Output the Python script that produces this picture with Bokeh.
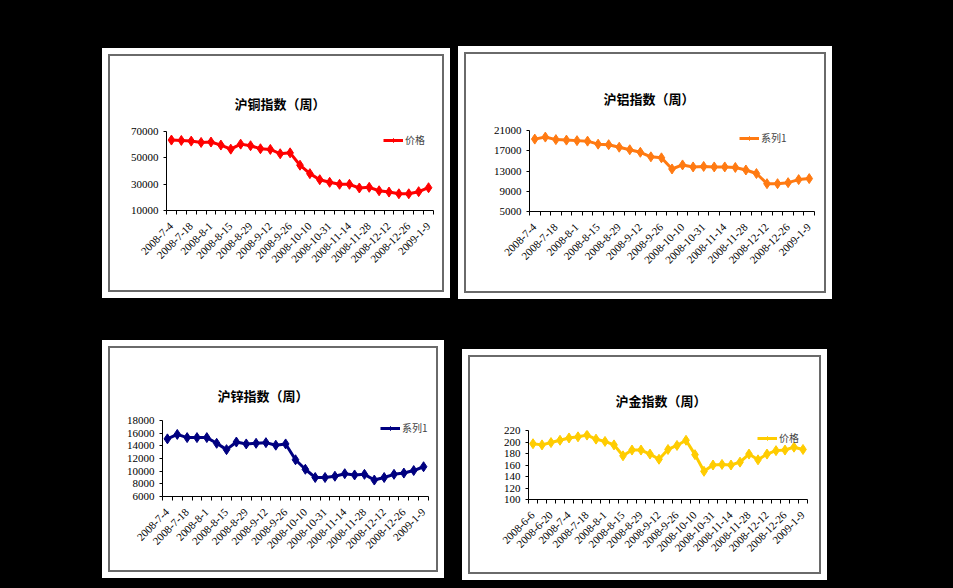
from math import pi
from bokeh.plotting import figure
from bokeh.layouts import row, column
from bokeh.models import Range1d, FixedTicker, Legend, LegendItem
from bokeh.embed import file_html
from bokeh.resources import INLINE

# ---------------- data ----------------
week_dates = ["2008-7-4", "2008-7-11", "2008-7-18", "2008-7-25", "2008-8-1", "2008-8-8",
              "2008-8-15", "2008-8-22", "2008-8-29", "2008-9-5", "2008-9-12", "2008-9-19",
              "2008-9-26", "2008-10-3", "2008-10-10", "2008-10-17", "2008-10-31", "2008-11-7",
              "2008-11-14", "2008-11-21", "2008-11-28", "2008-12-5", "2008-12-12", "2008-12-19",
              "2008-12-26", "2009-1-2", "2009-1-9"]
gold_dates = ["2008-6-6", "2008-6-13", "2008-6-20", "2008-6-27"] + week_dates

copper_values = [63500, 63200, 62700, 61700, 62000, 59700, 56600, 60400, 59200, 56900,
                 56400, 53100, 53800, 44400, 38000, 33400, 31400, 29900, 29900, 27100,
                 27600, 25000, 24000, 22700, 22700, 24300, 27300]
aluminum_values = [19300, 19700, 19200, 19100, 19000, 18900, 18300, 18200, 17700, 17200,
                   16700, 15800, 15600, 13400, 14200, 13800, 13900, 13800, 13800, 13700,
                   13200, 12500, 10500, 10500, 10700, 11300, 11500]
zinc_values = [15100, 15800, 15300, 15300, 15300, 14400, 13400, 14600, 14300, 14400,
               14500, 14100, 14300, 11800, 10300, 9000, 9000, 9200, 9600, 9400,
               9500, 8600, 9000, 9500, 9700, 10100, 10700]
gold_values = [197, 195, 199, 203, 207, 209, 212, 205, 201, 195, 176, 186, 186, 179, 170,
               187, 194, 203, 178, 149, 160, 161, 160, 165, 179, 169, 179, 185, 186, 191, 187]

titles = ["沪铜指数（周）", "沪铝指数（周）", "沪锌指数（周）", "沪金指数（周）"]
series_names = ["价格", "系列1", "系列1", "价格"]
y_ticks = [[10000, 30000, 50000, 70000],
           [5000, 9000, 13000, 17000, 21000],
           [6000, 8000, 10000, 12000, 14000, 16000, 18000],
           [100, 120, 140, 160, 180, 200, 220]]
colors = ["#FF0000", "#FF7A12", "#000080", "#FFCC00"]

LABEL_FONT = "Liberation Serif"
CJK_FONT = "Noto Sans CJK SC"


def make_panel(title, dates, values, color, name, ticks, w, h, frame, title_off,
               title_standoff, legend_loc, margin):
    left, right, top, bottom = frame
    n = len(dates)
    fw, fh = w - 16, h - 16
    p = figure(width=fw, height=fh, output_backend="svg", toolbar_location=None,
               x_range=Range1d(-0.5, n - 0.5), y_range=Range1d(ticks[0], ticks[-1]),
               min_border_left=left - 8, min_border_right=right - 8,
               min_border_top=top - 8, min_border_bottom=bottom - 8,
               background_fill_color="white", border_fill_color="white",
               outline_line_color=None)
    p.title.text = title
    p.title.align = "left"
    p.title.offset = title_off
    p.title.standoff = title_standoff
    p.title.text_font = CJK_FONT
    p.title.text_font_size = "13px"
    p.title.text_font_style = "bold"
    p.title.text_color = "black"

    x = list(range(n))
    r1 = p.line(x, values, line_color=color, line_width=3)
    r2 = p.scatter(x, values, marker="diamond", size=10, fill_color=color, line_color=color)

    legend = Legend(items=[LegendItem(label=name, renderers=[r1, r2])], location=legend_loc,
                    padding=0, margin=0, spacing=0, label_standoff=2,
                    glyph_width=20, glyph_height=10, label_height=10,
                    background_fill_alpha=0, border_line_color=None,
                    label_text_font=CJK_FONT, label_text_font_size="10px")
    p.add_layout(legend)

    p.xgrid.visible = False
    p.ygrid.visible = False

    xa = p.xaxis[0]
    xa.ticker = FixedTicker(ticks=list(range(0, n, 2)),
                            minor_ticks=[i - 0.5 for i in range(n + 1)])
    xa.major_label_overrides = {i: dates[i] for i in range(0, n, 2)}
    xa.major_label_orientation = pi / 4
    xa.major_tick_line_color = None
    xa.minor_tick_out = 4
    xa.minor_tick_in = 0
    xa.minor_tick_line_color = "black"
    xa.axis_line_color = "black"
    xa.major_label_text_font = LABEL_FONT
    xa.major_label_text_font_size = "11px"
    xa.major_label_text_color = "black"
    xa.major_label_standoff = 8

    ya = p.yaxis[0]
    ya.ticker = FixedTicker(ticks=ticks)
    ya.minor_tick_line_color = None
    ya.major_tick_out = 3
    ya.major_tick_in = 0
    ya.major_tick_line_color = "black"
    ya.axis_line_color = "black"
    ya.major_label_text_font = LABEL_FONT
    ya.major_label_text_font_size = "11px"
    ya.major_label_text_color = "black"
    ya.major_label_standoff = 5

    inner = column(p, spacing=0, styles={"border": "2px solid #6a6a6a"})
    outer = column(inner, spacing=0, margin=margin,
                   styles={"background-color": "white", "padding": "6px"})
    return outer


p1 = make_panel(titles[0], week_dates, copper_values, colors[0], series_names[0], y_ticks[0],
                348, 250, (64, 17, 83, 88), 68, 37, (217, 63), (48, 0, 0, 102))
p2 = make_panel(titles[1], week_dates, aluminum_values, colors[1], series_names[1], y_ticks[1],
                374, 253, (71, 18, 84, 88), 74, 45, (210, 66), (46, 0, 0, 8))
p3 = make_panel(titles[2], week_dates, zinc_values, colors[2], series_names[2], y_ticks[2],
                342, 238, (60, 16, 80, 82), 55, 31, (218, 61), (41, 0, 0, 102))
p4 = make_panel(titles[3], gold_dates, gold_values, colors[3], series_names[3], y_ticks[3],
                365, 231, (66, 20, 81, 81), 87, 42, (229, 54), (50, 0, 0, 18))

root = column(row(p1, p2, spacing=0), row(p3, p4, spacing=0), spacing=0,
              width=953, height=588, styles={"background-color": "black"})

open("out.html", "w").write(file_html(root, INLINE))
